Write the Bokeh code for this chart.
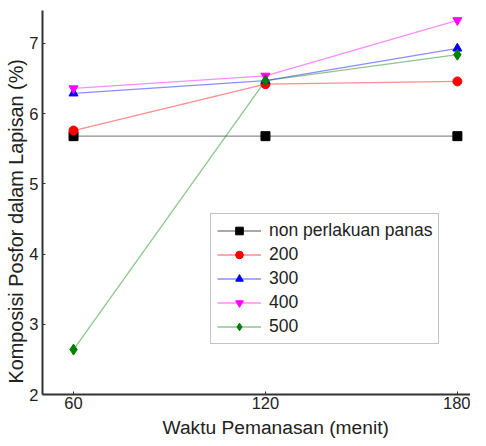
from bokeh.plotting import figure
from bokeh.embed import file_html
from bokeh.resources import INLINE
from bokeh.models import Range1d, FixedTicker, Legend, LegendItem, Title

x_vals = [60, 120, 180]
non_heat = [5.68, 5.68, 5.68]
t200 = [5.76, 6.42, 6.46]
t300 = [6.29, 6.47, 6.93]
t400 = [6.36, 6.54, 7.33]
t500 = [2.64, 6.47, 6.84]

series = [
    ("non perlakuan panas", non_heat, "black", "square"),
    ("200", t200, "red", "circle"),
    ("300", t300, "blue", "triangle"),
    ("400", t400, "magenta", "inverted_triangle"),
    ("500", t500, "green", "diamond"),
]

x_title = "Waktu Pemanasan (menit)"
y_title = "Komposisi Posfor dalam Lapisan (%)"

FONT = "Liberation Sans"

p = figure(width=470, height=445, output_backend="svg", toolbar_location=None,
           x_range=Range1d(50.3, 184.1), y_range=Range1d(2, 7.47),
           min_border_left=42, min_border_right=0, min_border_top=10, min_border_bottom=51)
p.outline_line_color = None
p.xgrid.visible = False
p.ygrid.visible = False

items = []
for name, ys, color, marker in series:
    ln = p.line(x_vals, ys, line_color=color, line_alpha=0.45, line_width=1.3)
    sc = p.scatter(x_vals, ys, marker=marker, size=9 if marker != "diamond" else 11,
                   fill_color=color, line_color=color)
    items.append(LegendItem(label=name, renderers=[ln, sc]))

legend = Legend(items=items, location=(168, 50), label_text_font=FONT,
                label_text_font_size="17.5px", label_text_color="#222222",
                glyph_width=44, glyph_height=19, label_height=19, spacing=3,
                label_standoff=8, padding=6, margin=0,
                border_line_color="#888888", border_line_width=1.2,
                background_fill_alpha=1.0)
p.add_layout(legend, "center")

p.xaxis.ticker = FixedTicker(ticks=x_vals)
p.yaxis.ticker = FixedTicker(ticks=[2, 3, 4, 5, 6, 7])
for ax in (p.xaxis[0], p.yaxis[0]):
    ax.axis_line_color = "#333333"
    ax.axis_line_width = 2
    ax.major_tick_in = 3
    ax.major_tick_out = 0
    ax.major_tick_line_color = "#333333"
    ax.minor_tick_line_color = None
    ax.major_label_text_font = FONT
    ax.major_label_text_font_size = "16.5px"
    ax.major_label_text_color = "#222222"

p.xaxis.major_label_standoff = 2
p.yaxis.major_label_standoff = 4

xt = Title(text=x_title, align="left", offset=120, standoff=7,
           text_font=FONT, text_font_size="19.2px", text_font_style="normal",
           text_color="#222222")
yt = Title(text=y_title, align="left", offset=11, standoff=0,
           text_font=FONT, text_font_size="19.8px", text_font_style="normal",
           text_color="#222222")
p.add_layout(xt, "below")
p.add_layout(yt, "left")

open("out.html", "w").write(file_html(p, INLINE))
